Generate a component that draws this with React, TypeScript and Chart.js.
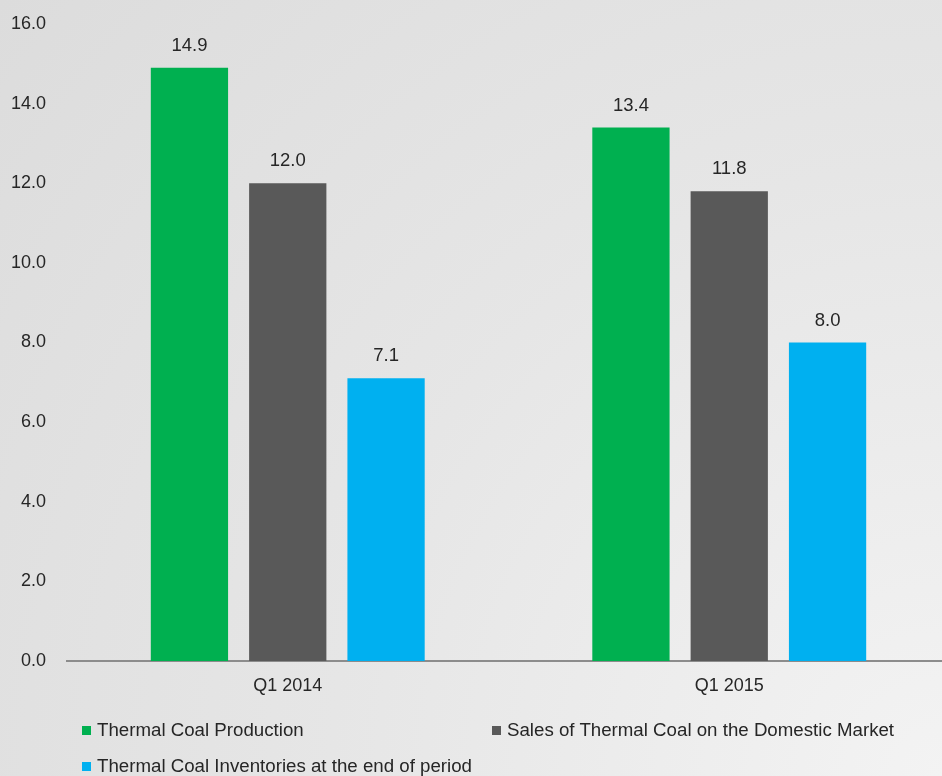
import React, { useEffect, useRef } from "react";
import { Chart, registerables } from "chart.js";

Chart.register(...registerables);

const categories = ["Q1 2014", "Q1 2015"];
const seriesNames = [
  "Thermal Coal Production",
  "Sales of Thermal Coal on the Domestic Market",
  "Thermal Coal Inventories at the end of period",
];
const production = [14.9, 13.4];
const sales = [12.0, 11.8];
const inventories = [7.1, 8.0];
const colors = ["#00b050", "#595959", "#00b0f0"];
const yTicks = [0, 2, 4, 6, 8, 10, 12, 14, 16];

const FONT = '"Liberation Sans Narrow", "Arial Narrow", "Liberation Sans", sans-serif';

const valueLabels = {
  id: "valueLabels",
  afterDatasetsDraw(chart: any) {
    const ctx = chart.ctx;
    ctx.save();
    ctx.font = `18.5px ${FONT}`;
    ctx.fillStyle = "#262626";
    ctx.textAlign = "center";
    ctx.textBaseline = "middle";
    chart.data.datasets.forEach((ds: any, i: number) => {
      const meta = chart.getDatasetMeta(i);
      meta.data.forEach((bar: any, j: number) => {
        ctx.fillText(ds.data[j].toFixed(1), bar.x, bar.y - 22);
      });
    });
    ctx.restore();
  },
};

export default function App() {
  const ref = useRef<HTMLCanvasElement>(null);
  useEffect(() => {
    document.body.style.margin = "0";
    const chart = new Chart(ref.current!, {
      type: "bar",
      data: {
        labels: categories,
        datasets: [production, sales, inventories].map((d, i) => ({
          label: seriesNames[i],
          data: d,
          backgroundColor: colors[i],
          categoryPercentage: 0.668,
          barPercentage: 0.786,
        })),
      },
      options: {
        animation: false,
        responsive: false,
        layout: { padding: { top: 24, right: 0, left: 0, bottom: 0 } },
        plugins: { legend: { display: false }, tooltip: { enabled: false } },
        scales: {
          x: {
            grid: { display: false, drawTicks: false },
            border: { display: true, color: "#8c8c8c", width: 2 },
            ticks: { color: "#262626", font: { family: FONT, size: 18 }, padding: 14 },
            afterFit(scale: any) {
              scale.height = 39;
            },
          },
          y: {
            min: 0,
            max: 16,
            afterBuildTicks(scale: any) {
              scale.ticks = yTicks.map((v) => ({ value: v }));
            },
            grid: { display: false, drawTicks: false },
            border: { display: false },
            ticks: {
              color: "#262626",
              font: { family: FONT, size: 18 },
              padding: 21,
              callback: (v: any) => Number(v).toFixed(1),
            },
            afterFit(scale: any) {
              scale.width = 67;
              scale.paddingTop = 0;
              scale.paddingBottom = 0;
            },
          },
        },
      },
      plugins: [valueLabels],
    });
    return () => chart.destroy();
  }, []);

  const legendItem = (i: number, left: number, top: number) => (
    <div
      key={i}
      style={{
        position: "absolute",
        left,
        top,
        display: "flex",
        alignItems: "center",
        font: `18.7px ${FONT}`,
        color: "#262626",
        whiteSpace: "nowrap",
      }}
    >
      <span style={{ width: 9, height: 9, background: colors[i], marginRight: 6, display: "inline-block" }} />
      {seriesNames[i]}
    </div>
  );

  return (
    <div
      style={{
        position: "fixed",
        left: 0,
        top: 0,
        width: 942,
        height: 776,
        overflow: "hidden",
        background: "radial-gradient(circle farthest-corner at 100% 100%, #f3f3f3 0%, #e6e6e6 50%, #dcdcdc 100%)",
      }}
    >
      <canvas ref={ref} width={950} height={700} style={{ position: "absolute", left: 0, top: 0 }} />
      {legendItem(0, 82, 719)}
      {legendItem(1, 492, 719)}
      {legendItem(2, 82, 755)}
    </div>
  );
}
